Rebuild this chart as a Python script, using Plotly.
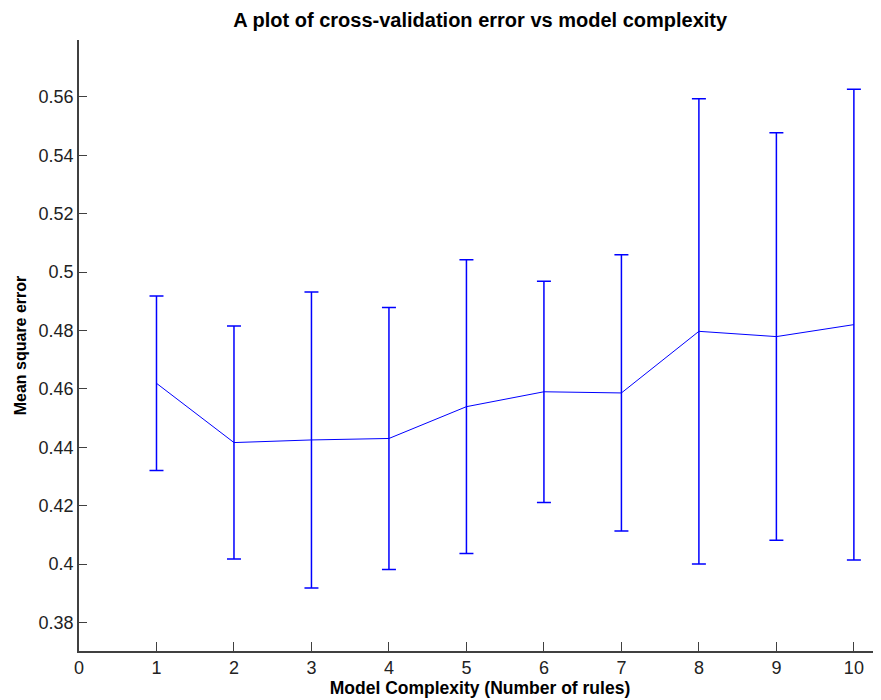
import plotly.graph_objects as go

complexity = [1, 2, 3, 4, 5, 6, 7, 8, 9, 10]
mean_error = [0.4619, 0.4416, 0.4425, 0.4430, 0.4539, 0.4590, 0.4586, 0.4797, 0.4779, 0.4820]
error_spread = [0.0299, 0.0399, 0.0507, 0.0449, 0.0503, 0.0379, 0.0473, 0.0797, 0.0698, 0.0806]

x_ticks = [0, 1, 2, 3, 4, 5, 6, 7, 8, 9, 10]
y_ticks = [0.38, 0.40, 0.42, 0.44, 0.46, 0.48, 0.50, 0.52, 0.54, 0.56]
y_tick_labels = ["0.38", "0.4", "0.42", "0.44", "0.46", "0.48", "0.5", "0.52", "0.54", "0.56"]

FONT = "Liberation Sans, Arial, sans-serif"
AXIS_COLOR = "#404040"

fig = go.Figure()
fig.add_trace(go.Scatter(
    x=complexity,
    y=mean_error,
    mode="lines",
    line=dict(color="#0000ff", width=1),
    error_y=dict(type="data", array=error_spread, visible=True,
                 color="#0000ff", thickness=1.5, width=7),
    showlegend=False,
    hoverinfo="x+y",
))

# the page body adds an 8px offset, so margins compensate for it
fig.update_layout(
    width=881, height=700,
    margin=dict(l=71, r=8, t=32, b=57),
    paper_bgcolor="white", plot_bgcolor="white",
    title=dict(text="<b>A plot of cross-validation error vs model complexity</b>",
               x=0.536, xanchor="center", y=0.983, yanchor="middle",
               font=dict(family=FONT, size=20, color="black")),
    font=dict(family=FONT, color="black"),
)

fig.update_xaxes(
    range=[0, 10.35], tickmode="array", tickvals=x_ticks,
    ticks="inside", ticklen=9, tickcolor=AXIS_COLOR, tickwidth=1,
    showline=True, linecolor=AXIS_COLOR, linewidth=1.5,
    showgrid=False, zeroline=False,
    tickfont=dict(family=FONT, size=18, color="#222222"),
    title=dict(text="<b>Model Complexity (Number of rules)</b>", standoff=4,
               font=dict(family=FONT, size=17.5, color="black")),
)
fig.update_yaxes(
    range=[0.3702, 0.5795], tickmode="array", tickvals=y_ticks, ticktext=y_tick_labels,
    ticks="inside", ticklen=8, tickcolor=AXIS_COLOR, tickwidth=1,
    showline=True, linecolor=AXIS_COLOR, linewidth=1.5,
    showgrid=False, zeroline=False,
    tickfont=dict(family=FONT, size=18, color="#222222"),
    title=dict(text="<b>Mean square error</b>", standoff=8,
               font=dict(family=FONT, size=16, color="black")),
)

fig.write_html("out.html")
